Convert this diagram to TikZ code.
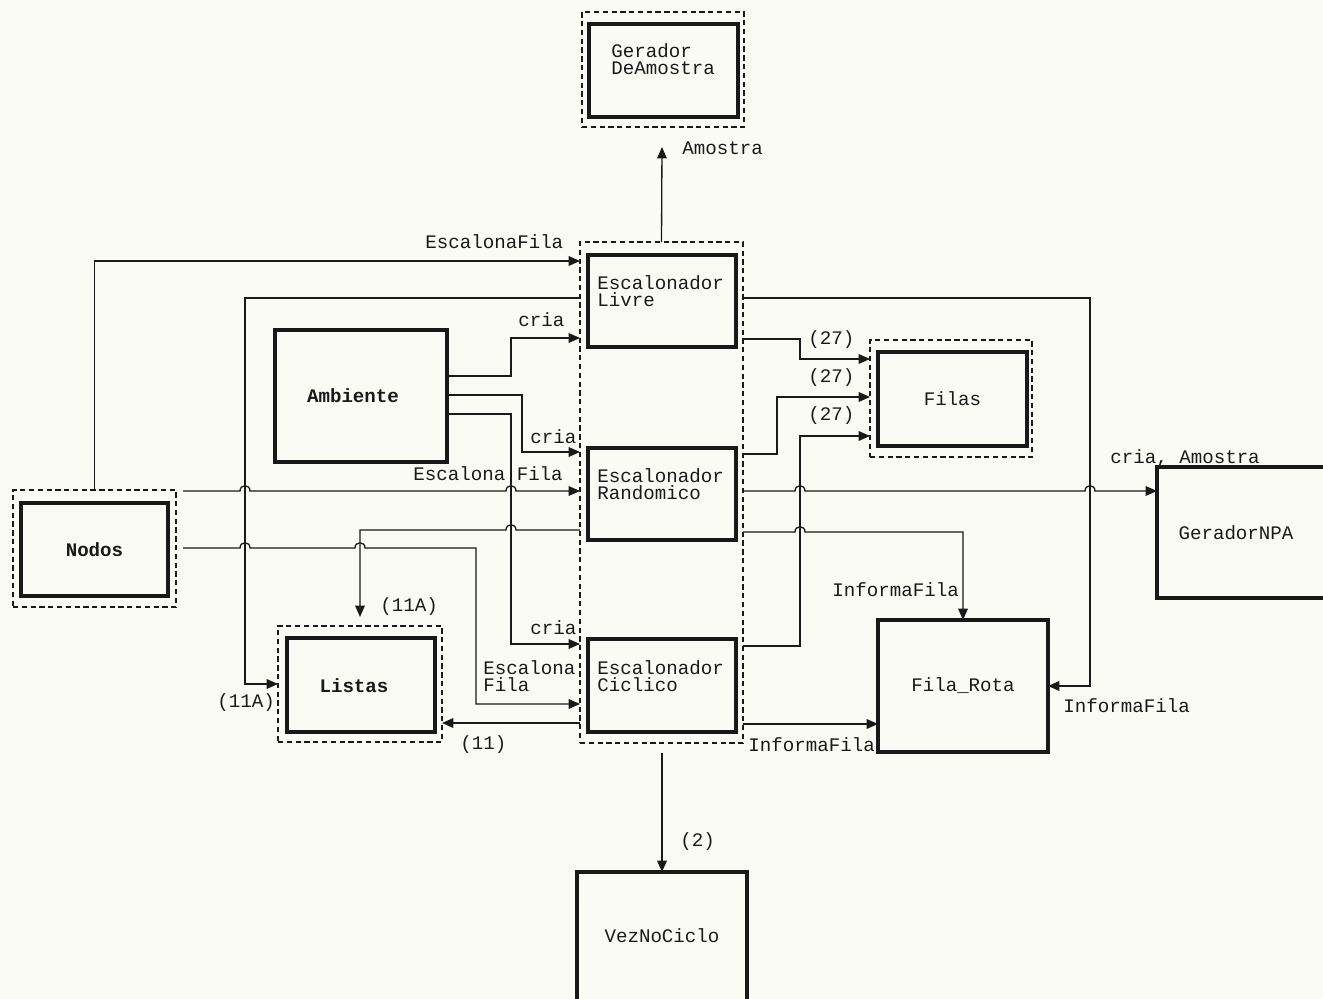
\documentclass[tikz,border=0pt]{standalone}
\usepackage{fontspec}
\setmonofont{Liberation Mono}
\usetikzlibrary{arrows.meta,calc}
\definecolor{paper}{RGB}{251,251,246}
\definecolor{ink}{RGB}{25,25,25}
\tikzset{
  box/.style={draw=ink, line width=1.8pt, inner sep=0pt, outer sep=0pt},
  dbox/.style={draw=ink, line width=0.8pt, dash pattern=on 3pt off 2pt, inner sep=0pt, outer sep=0pt},
  conn/.style={draw=ink, line width=0.75pt},
  arr/.style={conn, -{Triangle[length=6.5pt,width=5.5pt]}},
  lbl/.style={font=\ttfamily\fontsize{10.9}{9.9}\selectfont, text=ink, inner sep=0pt, anchor=west, align=left},
  blbl/.style={font=\ttfamily\bfseries\fontsize{10.9}{9.9}\selectfont, text=ink, inner sep=0pt},
  rlbl/.style={font=\ttfamily\fontsize{10.9}{9.9}\selectfont, text=ink, inner sep=0pt},
  hop/.style={to path={.. controls +(0,-7) and +(0,-7) .. (\tikztotarget)}},
}
\begin{document}
\begin{tikzpicture}[x=0.02cm,y=-0.02cm]
\useasboundingbox (0,0) rectangle (1323,999);
\clip (0,0) rectangle (1323,999);
\fill[paper] (0,0) rectangle (1323,999);

% boxes
\node[dbox, minimum width=3.24cm, minimum height=2.30cm] (genO) at (663,69.5) {};
\node[box, minimum width=2.98cm, minimum height=1.86cm] (gen) at (663.5,70.5) {};
\node[dbox, minimum width=3.26cm, minimum height=10.02cm] (escO) at (661.5,492.5) {};
\node[box, minimum width=2.96cm, minimum height=1.84cm] (livre) at (662,301) {};
\node[box, minimum width=2.96cm, minimum height=1.84cm] (rand) at (662,494) {};
\node[box, minimum width=2.96cm, minimum height=1.86cm] (cicl) at (662,685.5) {};
\node[box, minimum width=3.44cm, minimum height=2.64cm] (amb) at (361,396) {};
\node[dbox, minimum width=3.26cm, minimum height=2.34cm] (nodosO) at (94.5,548.5) {};
\node[box, minimum width=2.94cm, minimum height=1.86cm, blbl] (nodos) at (94.5,549.5) {Nodos};
\node[dbox, minimum width=3.28cm, minimum height=2.32cm] (listasO) at (360,684) {};
\node[box, minimum width=2.96cm, minimum height=1.88cm] (listas) at (361,685) {};
\node[dbox, minimum width=3.24cm, minimum height=2.34cm] (filasO) at (951,398.5) {};
\node[box, minimum width=2.98cm, minimum height=1.88cm, rlbl] (filas) at (952.5,399) {Filas};
\node[box, minimum width=3.66cm, minimum height=2.62cm] (npa) at (1248.5,532.5) {};
\node[box, minimum width=3.40cm, minimum height=2.64cm, rlbl] (frota) at (963,686) {Fila\_Rota};
\node[box, minimum width=3.40cm, minimum height=2.76cm] (vez) at (662,941) {};

% box texts
\node[lbl] (tgen) at (611,59) {Gerador\\DeAmostra};
\node[lbl] (tlivre) at (597,291) {Escalonador\\Livre};
\node[lbl] (trand) at (597,484) {Escalonador\\Randomico};
\node[lbl] (tcicl) at (597,676) {Escalonador\\Ciclico};
\node[blbl] (tamb) at (353,396) {Ambiente};
\node[blbl] (tlistas) at (354,686) {Listas};
\node[rlbl] (tnpa) at (1236,533) {GeradorNPA};
\node[rlbl] (tvez) at (662,936) {VezNoCiclo};

% free ends
\coordinate (amTip) at (662,147);
\coordinate (lTip) at (360,617);
\coordinate (vStart) at (662,753);

% connectors, left side
\draw[arr] (nodosO.north) |- (escO.west |- 0,261);
\draw[arr] (escO.west |- 0,298) -- (245,298) -- (245,684) -- (listasO.west);
\draw[arr] (183,491) -- (240,491) to[hop] (250,491) -- (506,491) to[hop] (516,491) -- (escO.west |- 0,491);
\draw[arr] (183,548) -- (240,548) to[hop] (250,548) -- (355,548) to[hop] (365,548) -- (476,548) -- (476,704) -- (escO.west |- 0,704);
\draw[arr] (amb.east |- 0,376) -- (511,376) -- (511,338) -- (escO.west |- 0,338);
\draw[arr] (amb.east |- 0,395) -- (522,395) -- (522,452) -- (escO.west |- 0,452);
\draw[arr] (amb.east |- 0,414) -- (511,414) -- (511,644) -- (escO.west |- 0,644);
\draw[arr] (escO.west |- 0,530) -- (516,530) to[hop] (506,530) -- (360,530) -- (lTip);
\draw[arr] (escO.west |- 0,723) -- (listasO.east |- 0,723);
\draw[arr] (escO.north) -- (amTip);
\draw[arr] (vStart) -- (vez.north);

% connectors, right side
\draw[arr] (escO.east |- 0,298) -- (1090,298) |- (frota.east);
\draw[arr] (escO.east |- 0,339) -- (800,339) -- (800,359) -- (filasO.west |- 0,359);
\draw[arr] (escO.east |- 0,454) -- (777,454) -- (777,397) -- (filasO.west |- 0,397);
\draw[arr] (escO.east |- 0,646) -- (800,646) -- (800,436) -- (filasO.west |- 0,436);
\draw[arr] (escO.east |- 0,491) -- (795,491) to[hop] (805,491) -- (1085,491) to[hop] (1095,491) -- (npa.west |- 0,491);
\draw[arr] (escO.east |- 0,532) -- (795,532) to[hop] (805,532) -- (963,532) -- (frota.north);
\draw[arr] (escO.east |- 0,724) -- (frota.west |- 0,724);

% connector labels
\node[lbl] (l1) at (682,148) {Amostra};
\node[lbl] (l2) at (425,242) {EscalonaFila};
\node[lbl] (l3) at (518,320) {cria};
\node[lbl] (l4) at (530,437) {cria};
\node[lbl] (l5) at (413,474) {Escalona Fila};
\node[lbl] (l6) at (380,607) {(11A)};
\node[lbl] (l7) at (530,628) {cria};
\node[lbl] (l8) at (483,676) {Escalona\\Fila};
\node[lbl] (l9) at (217,703) {(11A)};
\node[lbl] (l10) at (460,745) {(11)};
\node[lbl] (l11) at (808,340) {(27)};
\node[lbl] (l12) at (808,378) {(27)};
\node[lbl] (l13) at (808,416) {(27)};
\node[lbl] (l14) at (1110,458) {cria, Amostra};
\node[lbl] (l15) at (832,590) {InformaFila};
\node[lbl] (l16) at (1063,706) {InformaFila};
\node[lbl] (l17) at (748,745) {InformaFila};
\node[lbl] (l18) at (680,842) {(2)};
\end{tikzpicture}
\end{document}
